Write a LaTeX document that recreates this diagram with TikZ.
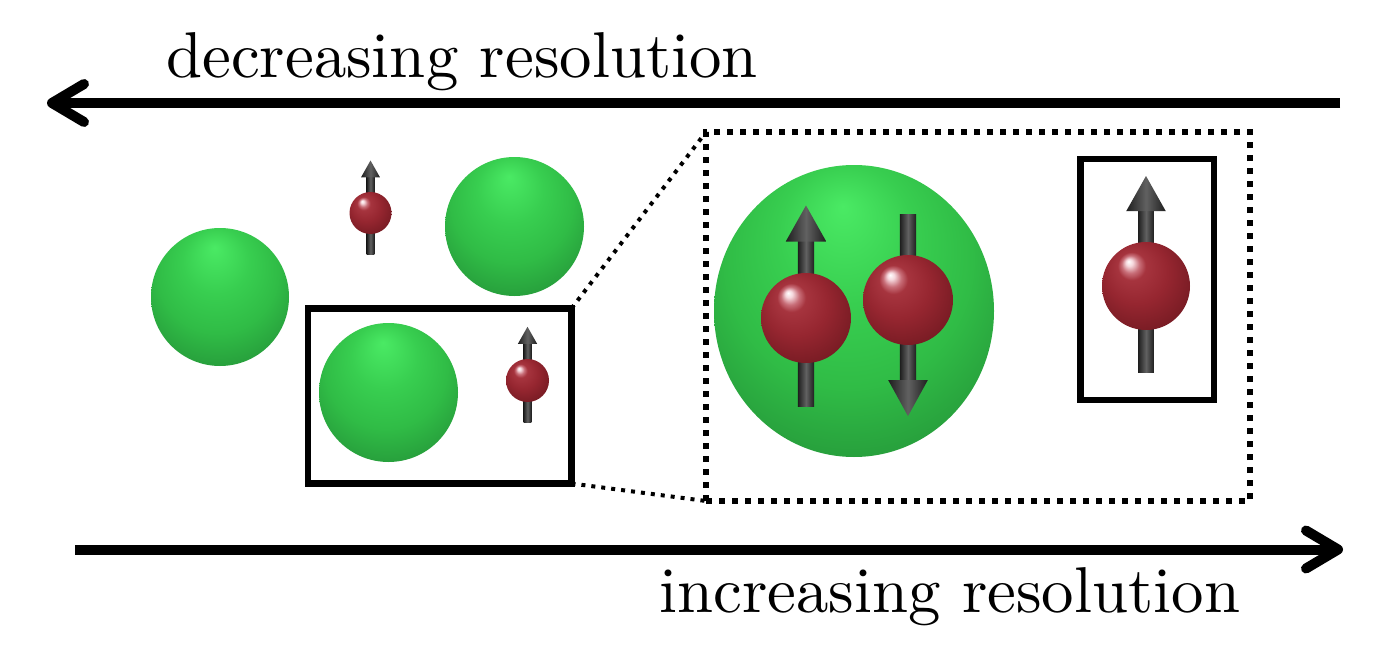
\documentclass[tikz,border=0pt]{standalone}
\usetikzlibrary{arrows.meta}
\definecolor{gA}{RGB}{74,234,100}
\definecolor{gB}{RGB}{56,206,80}
\definecolor{gB2}{RGB}{48,188,70}
\definecolor{gC}{RGB}{34,142,54}
\definecolor{gD}{RGB}{28,116,44}
\definecolor{rA}{RGB}{245,215,220}
\definecolor{rH}{RGB}{200,110,120}
\definecolor{rB}{RGB}{166,52,62}
\definecolor{rC}{RGB}{150,38,48}
\definecolor{rD}{RGB}{116,26,34}
\definecolor{rE}{RGB}{86,18,24}
\pgfdeclareradialshading{greensph}{\pgfpoint{-2bp}{18bp}}{color(0bp)=(gA); color(12bp)=(gB); color(22bp)=(gB2); color(36bp)=(gC); color(44bp)=(gD)}
\pgfdeclareradialshading{redsph}{\pgfpoint{-10bp}{14bp}}{color(0bp)=(white); color(2bp)=(rA); color(5bp)=(rH); color(8bp)=(rB); color(18bp)=(rC); color(32bp)=(rD); color(42bp)=(rE)}
\tikzset{
  shaftsh/.style={left color=black!88, right color=black!88, middle color=black!62},
  redball/.style={shading=redsph},
  greenball/.style={shading=greensph},
  pics/spinup/.style={code={
     \shade[shaftsh] (-0.18,-1.75) rectangle (0.18,1.97);
     \shade[redball] (0,0) circle[radius=1];
     \shade[shaftsh] (-0.45,-1.7) -- (0,-2.5) -- (0.45,-1.7) -- cycle;
  }},
  pics/spindown/.style={code={
     \shade[shaftsh] (-0.18,-1.91) rectangle (0.18,1.83);
     \shade[redball] (0,0) circle[radius=1];
     \shade[shaftsh] (-0.44,1.78) -- (0,2.58) -- (0.44,1.78) -- cycle;
  }},
  bigarrow/.style={line width=5pt, -{Straight Barb[length=16pt, width=19pt, round]}},
  solidbox/.style={draw, line width=3.4pt, inner sep=0pt, outer sep=0pt},
  dotbox/.style={draw, line width=3pt, dash pattern=on 3pt off 3.5pt, inner sep=0pt, outer sep=0pt},
  dotline/.style={line width=2pt, dash pattern=on 2pt off 3pt},
  label/.style={scale=3.24, inner sep=0pt},
}
\begin{document}
\begin{tikzpicture}[x=0.5pt, y=-0.5pt]
\useasboundingbox[fill=white] (0,0) rectangle (1389,664);
% arrows
\coordinate (topstart) at (1340,103);
\coordinate (topend) at (47,103);
\coordinate (botstart) at (75,549.5);
\coordinate (botend) at (1343,549.5);
\draw[bigarrow] (topstart) -- (topend);
\draw[bigarrow] (botstart) -- (botend);
\node[label, anchor=base west] (dec) at (165,77) {decreasing resolution};
\node[label, anchor=base west] (inc) at (658,612) {increasing resolution};
% left scene
\shade[greenball] (220,297) circle[radius=69];
\shade[greenball] (514.5,226.5) circle[radius=69.5];
\pic[scale=21] at (370.5,213) {spinup};
\node[solidbox, minimum width=131.75pt, minimum height=87.5pt] (smallbox) at (439.75,396) {};
\shade[greenball] (388.5,392.5) circle[radius=69.5];
\pic[scale=21.5] at (527.5,380.5) {spinup};
% zoomed view
\node[dotbox, minimum width=272pt, minimum height=184.5pt] (zoombox) at (978,316.5) {};
\draw[dotline] (smallbox.north east) -- (zoombox.north west);
\draw[dotline] (smallbox.south east) -- (zoombox.south west);
\shade[greenball] (854,311) ellipse[x radius=140, y radius=146];
\pic[scale=45] at (806,318) {spinup};
\pic[scale=45] at (908,300) {spindown};
\node[solidbox, minimum width=66.75pt, minimum height=120.5pt] (spinbox) at (1147.25,279.5) {};
\pic[scale=44] at (1146,286) {spinup};
\end{tikzpicture}
\end{document}
